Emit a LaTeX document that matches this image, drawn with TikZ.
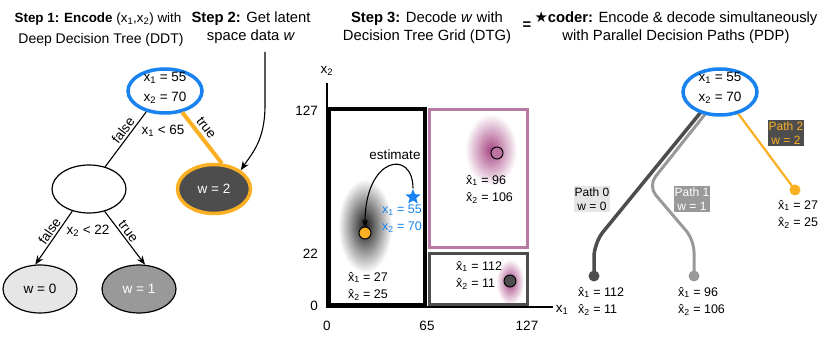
\documentclass[tikz,border=0pt]{standalone}
\usepackage{fontspec}
\setmainfont{Liberation Sans}
\newfontfamily\symfont{DejaVu Sans}
\usetikzlibrary{shapes.geometric,arrows.meta}
\definecolor{myblue}{RGB}{24,130,240}
\definecolor{myorange}{RGB}{251,176,36}
\definecolor{pinkline}{RGB}{183,122,163}
\definecolor{pinkblob}{RGB}{168,70,132}
\definecolor{dgray}{RGB}{77,77,77}
\definecolor{mgray}{RGB}{153,153,153}
\definecolor{lgray}{RGB}{230,230,230}
\newcommand\lo[1]{\textsubscript{#1}}
\newcommand\xh{\^x}
\tikzset{
  base/.style={inner sep=0pt, font=\fontsize{13.5}{20}\selectfont},
  ttl/.style={base, align=center, font=\fontsize{14.8}{18}\selectfont},
  ell/.style={ellipse, draw, line width=1.2pt, minimum width=74pt, minimum height=48pt, inner sep=0pt},
  rootell/.style={ellipse, draw=myblue, line width=3.5pt, fill=white, minimum width=74pt, minimum height=44pt, inner sep=0pt},
  edge/.style={line width=1.1pt},
  arr/.style={-{Stealth[length=9pt,width=7pt]}, line width=1.1pt},
  small/.style={base, font=\fontsize{12.5}{17}\selectfont, align=left},
  plab/.style={inner sep=1pt, align=center, font=\fontsize{12}{14.5}\selectfont},
  pdot/.style={circle, inner sep=0pt, minimum size=11pt},
  gdot/.style={circle, draw=black, line width=1pt, inner sep=0pt, minimum size=12pt},
}
\begin{document}
\begin{tikzpicture}[x=1pt,y=-1pt]
\useasboundingbox[fill=white] (0,0) rectangle (831,344);

% ---------- titles ----------
\node[base, font=\fontsize{13.4}{16}\selectfont] (t1a) at (98,19) {\textbf{Step 1: Encode} (x\lo1,x\lo2) with};
\node[base, font=\fontsize{14}{16}\selectfont] (t1b) at (101,40) {Deep Decision Tree (DDT)};
\node[ttl] (t2) at (251,28) {\textbf{Step 2:} Get latent\\space data \textit{w}};
\node[ttl] (t3) at (427,28) {\textbf{Step 3:} Decode \textit{w} with\\Decision Tree Grid (DTG)};
\node[ttl] (eq) at (527,26) {\textbf{=}};
\node[ttl] (t4) at (676,28) {{\symfont\bfseries ★}\textbf{coder:} Encode \& decode simultaneously\\with Parallel Decision Paths (PDP)};

% ---------- Step 1 tree ----------
\node[rootell] (r1) at (165,91) {};
\node[base, align=center] (r1t) at (165,88) {x\lo1 = 55\\x\lo2 = 70};
\node[ell] (mid) at (89,189) {};
\node[ell, fill=dgray, draw=myorange, line width=3.5pt, minimum width=73pt, minimum height=49pt, text=white] (w2) at (214,189) {};
\node[base, text=white] (w2t) at (214,189) {w = 2};
\node[ell, fill=lgray] (w0) at (40,289) {};
\node[base] (w0t) at (40,289) {w = 0};
\node[ell, fill=mgray] (w1) at (139,289) {};
\node[base, text=white] (w1t) at (139,289) {w = 1};

\draw[edge] (r1.228) -- node[base, sloped, above=2pt, pos=0.42] (f1) {false} (mid.54);
\draw[myorange, line width=4pt] (r1.-51) -- node[base, sloped, above=3pt, pos=0.42, text=black] (tr1) {true} (w2.73);
\node[base] (c1) at (163,131) {x\lo1 < 65};
\draw[arr] (mid.233) -- node[base, sloped, above=2pt, pos=0.45] (f2) {false} (w0.101);
\draw[arr] (mid.-55) -- node[base, sloped, above=2pt, pos=0.45] (tr2) {true} (w1.76);
\node[base] (c2) at (88,231) {x\lo2 < 22};

% Step 2 arrow
\coordinate (s2a) at (265,52);
\coordinate (s2b) at (265,105);
\draw[arr] (s2a) -- (s2b) .. controls +(0,35) and +(12,-18) .. (w2.35);

% ---------- Step 3 grid ----------
\shade[inner color=black!90, outer color=white] (365,226) ellipse [x radius=27pt, y radius=47pt];
\shade[inner color=pinkblob, outer color=white] (491,150) ellipse [x radius=26pt, y radius=36pt];
\shade[inner color=pinkblob, outer color=white] (510,282) ellipse [x radius=14pt, y radius=23pt];

\draw[line width=4pt] (329,109) rectangle (425,305);
\draw[pinkline, line width=3pt] (429.5,109.5) rectangle (527.5,247.5);
\draw[dgray, line width=3pt] (429.5,253.5) rectangle (527.5,305);

\coordinate (ytop) at (327,83);
\coordinate (orig) at (327,307);
\coordinate (xend) at (553,307);
\draw[line width=1.2pt] (ytop) -- (orig) -- (xend);
\node[base] (ax2) at (327,71) {x\lo2};
\node[base] (ax1) at (562,310) {x\lo1};
\node[base, anchor=east] (y127) at (318,111) {127};
\node[base, anchor=east] (y22) at (318,254) {22};
\node[base, anchor=east] (y0) at (318,306) {0};
\node[base] (x0) at (327,326) {0};
\node[base] (x65) at (427,326) {65};
\node[base] (x127) at (527,326) {127};

\node[gdot, fill=myorange] (od) at (365,233) {};
\node[gdot, fill=pinkblob!75] (pd) at (497,153) {};
\node[gdot, fill=dgray] (gd) at (510,281) {};
\node[star, star points=5, star point ratio=2.3, fill=myblue, minimum size=16pt, inner sep=0pt] (st) at (413,197) {};
\node[base] (est) at (395,155) {estimate};
\draw[-{Stealth[length=7pt,width=6pt]}, line width=1.1pt] (st.north) .. controls +(0,-40) and +(0,-70) .. (od.north);
\node[small, text=myblue, align=right, anchor=east] (xb) at (422,219) {x\lo1 = 55\\x\lo2 = 70};
\node[small] (e0) at (368,286) {\xh\lo1 = 27\\\xh\lo2 = 25};
\node[small, anchor=west] (e1) at (466,189) {\xh\lo1 = 96\\\xh\lo2 = 106};
\node[small, anchor=west] (e2) at (456,275) {\xh\lo1 = 112\\\xh\lo2 = 11};

% ---------- PDP ----------
\coordinate (b0) at (594,243);
\coordinate (b1a) at (648,186);
\coordinate (b1b) at (694,240);
\node[pdot, fill=dgray] (d0) at (594,276) {};
\node[pdot, fill=mgray] (d1) at (694,276) {};
\node[pdot, fill=myorange] (d2) at (795,190) {};
\draw[dgray, line width=3.5pt, rounded corners=14pt] (720,92) ++(-19,20) -- (b0) -- (d0.center);
\draw[mgray, line width=3pt, rounded corners=12pt] (720,92) ++(-14,21) -- (b1a) -- (b1b) -- (d1.center);
\draw[myorange, line width=2.2pt] (720,92) ++(17,20) -- (d2.center);
\node[rootell, minimum height=46pt] (r2) at (720,92) {};
\node[base, align=center] (r2t) at (720,88) {x\lo1 = 55\\x\lo2 = 70};

\node[plab, fill=lgray] (l0) at (592,199) {Path 0\\w = 0};
\node[plab, fill=mgray, text=white] (l1) at (692,199) {Path 1\\w = 1};
\node[plab, fill=dgray, text=myorange] (l2) at (786,133) {Path 2\\w = 2};

\node[small, anchor=west] (q0) at (578,301) {\xh\lo1 = 112\\\xh\lo2 = 11};
\node[small, anchor=west] (q1) at (678,301) {\xh\lo1 = 96\\\xh\lo2 = 106};
\node[small, anchor=west] (q2) at (778,214) {\xh\lo1 = 27\\\xh\lo2 = 25};
\end{tikzpicture}
\end{document}
